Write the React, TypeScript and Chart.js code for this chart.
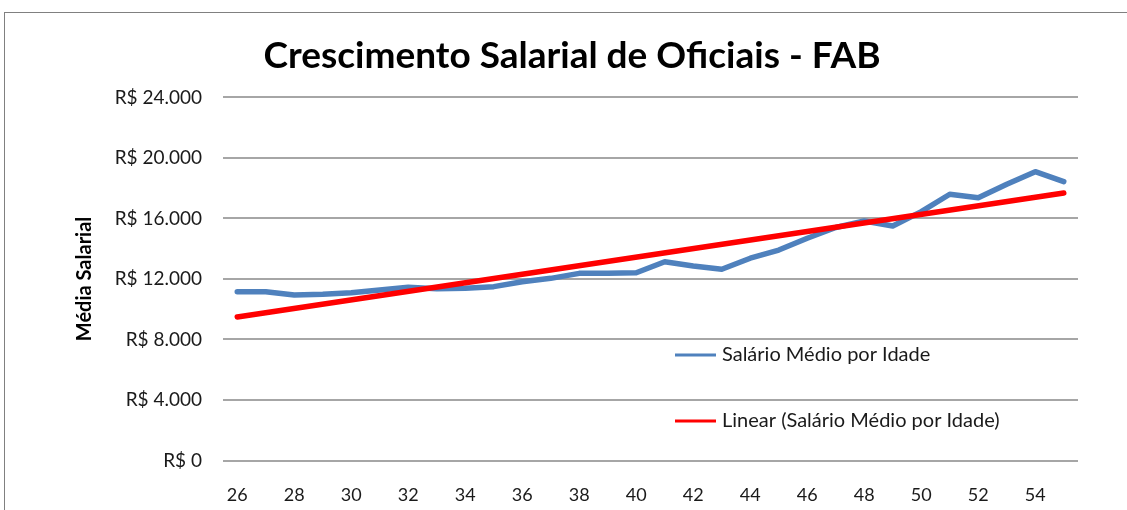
import React, { useEffect, useRef } from 'react';
import { Chart, registerables } from 'chart.js';

Chart.register(...registerables);

const chartTitle = 'Crescimento Salarial de Oficiais - FAB';
const yAxisTitle = 'Média Salarial';
const seriesName = 'Salário Médio por Idade';
const trendName = 'Linear (Salário Médio por Idade)';

const ages = [
  '26', '27', '28', '29', '30', '31', '32', '33', '34', '35',
  '36', '37', '38', '39', '40', '41', '42', '43', '44', '45',
  '46', '47', '48', '49', '50', '51', '52', '53', '54', '55',
];

const salary = [
  11160, 11160, 10940, 10990, 11090, 11270, 11450, 11360, 11380, 11490,
  11820, 12040, 12370, 12370, 12410, 13140, 12860, 12640, 13370, 13910,
  14690, 15400, 15830, 15500, 16450, 17600, 17370, 18260, 19090, 18430,
];

// Linear trendline end values (age 26 and age 55)
const trendStart = 9490;
const trendEnd = 17680;

const yMin = 0;
const yMax = 24000;
const yStep = 4000;

const BLUE = '#4F81BD';
const RED = '#FF0000';
const FONT = 'Lato';

function formatBRL(v: number): string {
  return 'R$ ' + String(v).replace(/\B(?=(\d{3})+(?!\d))/g, '.');
}

const trendData = ages.map((_, i) =>
  i === 0 ? trendStart : i === ages.length - 1 ? trendEnd : null
);

const legendPlugin = {
  id: 'excelLegend',
  afterDraw(chart: any) {
    const ctx = chart.ctx as CanvasRenderingContext2D;
    const items = [
      { label: seriesName, color: BLUE, y: 355 },
      { label: trendName, color: RED, y: 421 },
    ];
    ctx.save();
    ctx.font = `20px ${FONT}`;
    ctx.textBaseline = 'middle';
    ctx.textAlign = 'left';
    items.forEach((it) => {
      ctx.strokeStyle = it.color;
      ctx.lineWidth = 3;
      ctx.beginPath();
      ctx.moveTo(675, it.y);
      ctx.lineTo(716, it.y);
      ctx.stroke();
      ctx.fillStyle = '#1a1a1a';
      ctx.fillText(it.label, 722, it.y);
    });
    ctx.restore();
  },
};

export default function App() {
  const canvasRef = useRef<HTMLCanvasElement | null>(null);

  useEffect(() => {
    if (!canvasRef.current) return;
    const chart = new Chart(canvasRef.current, {
      type: 'line',
      data: {
        labels: ages,
        datasets: [
          {
            label: seriesName,
            data: salary,
            borderColor: BLUE,
            backgroundColor: BLUE,
            borderWidth: 5.5,
            pointRadius: 0,
            tension: 0,
            borderCapStyle: 'round',
            borderJoinStyle: 'round',
            order: 2,
          },
          {
            label: trendName,
            data: trendData,
            borderColor: RED,
            backgroundColor: RED,
            borderWidth: 5.5,
            pointRadius: 0,
            spanGaps: true,
            borderCapStyle: 'round',
            order: 1,
          },
        ],
      },
      options: {
        animation: false,
        responsive: false,
        maintainAspectRatio: false,
        layout: { padding: { left: 66, right: 49, top: 10, bottom: 0 } },
        plugins: {
          legend: { display: false },
          tooltip: { enabled: false },
          title: {
            display: true,
            text: chartTitle,
            color: '#000',
            font: { family: FONT, size: 37, weight: 'bold' },
            padding: { top: 24, bottom: 19 },
          },
        },
        scales: {
          x: {
            type: 'category',
            offset: true,
            grid: { display: false, drawTicks: false },
            border: { display: false },
            ticks: {
              autoSkip: false,
              maxRotation: 0,
              minRotation: 0,
              padding: 24,
              color: '#1a1a1a',
              font: { family: FONT, size: 18 },
              callback: (_v: any, idx: number) => (idx % 2 === 0 ? ages[idx] : ''),
            },
            afterFit: (scale: any) => {
              scale.height = 49.5;
            },
          },
          y: {
            min: yMin,
            max: yMax,
            grid: { color: '#a6a6a6', lineWidth: 2, drawTicks: false },
            border: { display: false },
            ticks: {
              stepSize: yStep,
              padding: 21,
              color: '#1a1a1a',
              font: { family: FONT, size: 19 },
              callback: (v: any) => formatBRL(Number(v)),
            },
            title: {
              display: true,
              text: yAxisTitle,
              color: '#000',
              font: { family: FONT, size: 20, weight: 'bold' },
              padding: { top: 7, bottom: 0 },
            },
            afterFit: (scale: any) => {
              scale.width = 157;
            },
          },
        },
      },
      plugins: [legendPlugin],
    });
    return () => chart.destroy();
  }, []);

  return (
    <div
      style={{
        position: 'absolute',
        left: 0,
        top: 0,
        width: 1127,
        height: 510,
        overflow: 'hidden',
        background: '#fff',
      }}
    >
      <div
        style={{
          position: 'absolute',
          left: 4,
          top: 12,
          width: 1200,
          height: 600,
          border: '1px solid #808080',
          boxSizing: 'border-box',
        }}
      />
      <canvas
        ref={canvasRef}
        width={1127}
        height={510}
        style={{ position: 'absolute', left: 0, top: 0, width: 1127, height: 510 }}
      />
    </div>
  );
}
